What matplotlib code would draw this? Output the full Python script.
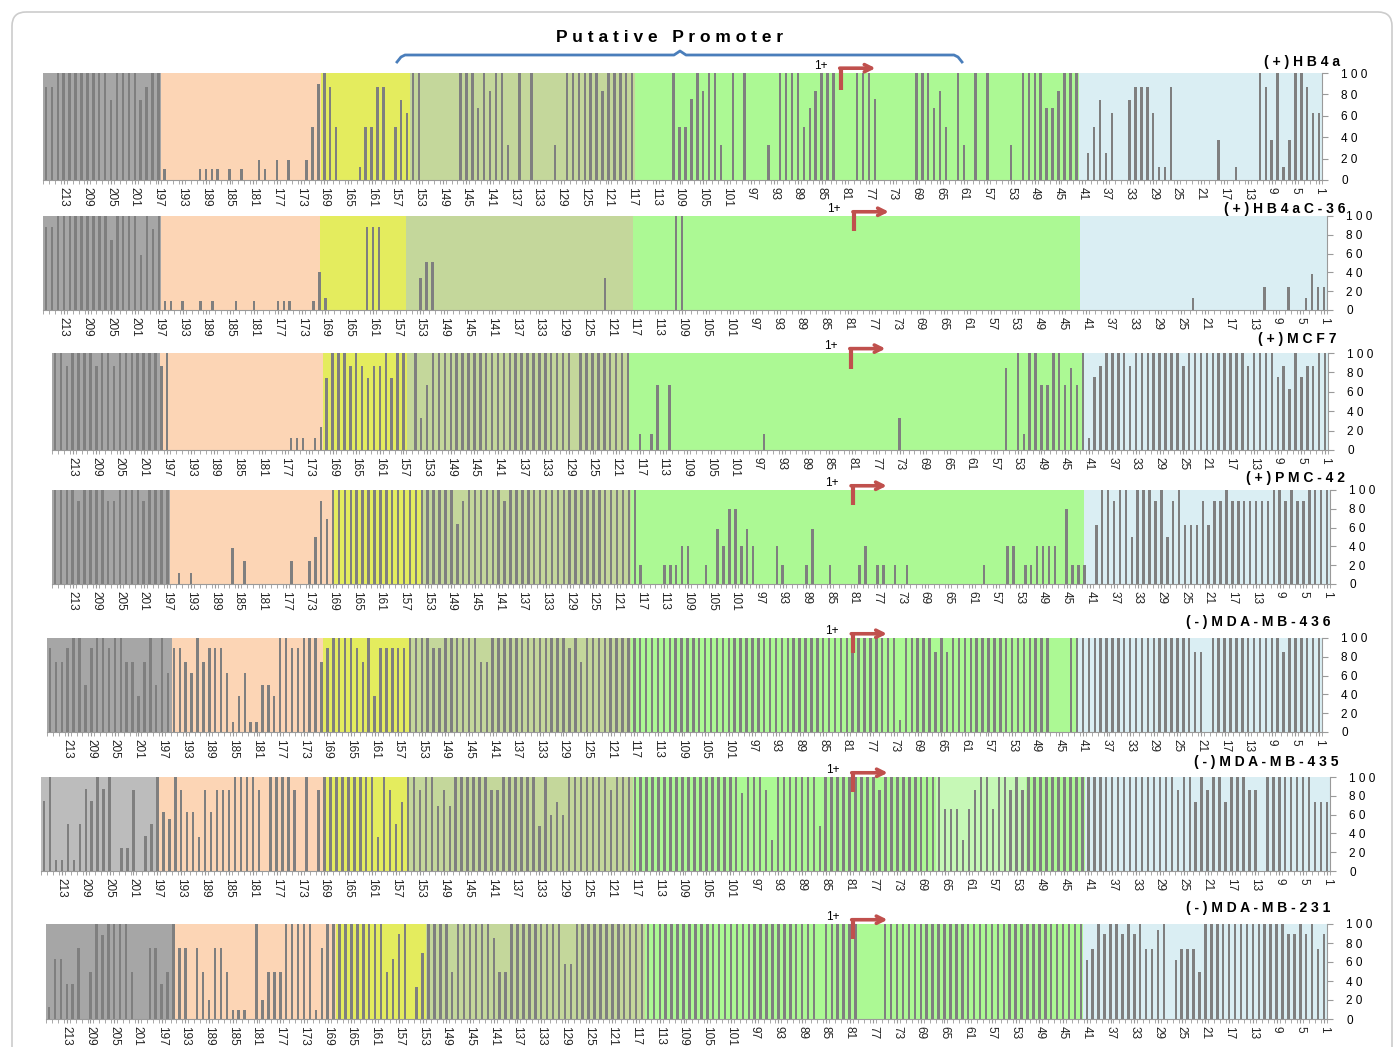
import numpy as np
import matplotlib.pyplot as plt
import matplotlib.transforms as mtransforms
from matplotlib.patches import FancyBboxPatch

plt.rcParams['font.family'] = ['Liberation Sans', 'DejaVu Sans']

W, H = 1398, 1047

# positions, left (216) to right (1)
positions = np.arange(216, 0, -1)
tick_pos = np.arange(213, 0, -4)

panel_names = ['( + ) H B 4 a', '( + ) H B 4 a C - 3 6', '( + ) M C F 7', '( + ) P M C - 4 2',
               '( - ) M D A - M B - 4 3 6', '( - ) M D A - M B - 4 3 5', '( - ) M D A - M B - 2 3 1']

# % values, 8 positions per row (216-209, 208-201, ... , 8-1)
hb4a = [
    87, 87, 100, 100, 100, 100, 100, 100,
    100, 100, 100, 75, 100, 100, 100, 100,
    75, 87, 100, 100, 10, 0, 0, 0,
    0, 0, 10, 10, 10, 10, 0, 10,
    0, 10, 0, 0, 19, 10, 0, 19,
    0, 19, 0, 0, 19, 50, 90, 100,
    87, 50, 0, 0, 0, 12, 50, 50,
    87, 87, 0, 50, 75, 63, 100, 100,
    0, 0, 0, 0, 0, 0, 100, 100,
    100, 67, 100, 83, 100, 100, 33, 0,
    100, 0, 100, 0, 0, 0, 33, 0,
    100, 100, 100, 100, 100, 100, 83, 100,
    100, 100, 100, 100, 0, 0, 0, 0,
    0, 0, 100, 50, 50, 76, 100, 83,
    100, 100, 33, 0, 100, 0, 100, 0,
    0, 0, 33, 0, 100, 100, 100, 100,
    50, 67, 83, 100, 100, 100, 0, 0,
    0, 100, 100, 100, 76, 0, 0, 0,
    0, 0, 0, 100, 100, 100, 67, 83,
    50, 0, 100, 33, 0, 100, 0, 100,
    0, 0, 0, 33, 0, 100, 100, 100,
    100, 67, 67, 83, 100, 100, 100, 0,
    25, 50, 75, 25, 63, 0, 0, 75,
    87, 87, 87, 63, 12, 12, 87, 0,
    0, 0, 0, 0, 0, 0, 37, 0,
    0, 12, 0, 0, 0, 100, 87, 37,
    100, 12, 37, 100, 100, 87, 63, 63,
]

hb4ac36 = [
    88, 88, 100, 100, 100, 100, 100, 100,
    100, 100, 100, 75, 100, 100, 100, 100,
    58, 100, 86, 100, 10, 10, 0, 10,
    0, 0, 10, 0, 10, 0, 0, 0,
    10, 0, 0, 10, 0, 0, 0, 10,
    10, 10, 0, 0, 0, 10, 40, 13,
    0, 0, 0, 0, 0, 0, 88, 88,
    88, 0, 0, 0, 0, 0, 0, 34,
    51, 51, 0, 0, 0, 0, 0, 0,
    0, 0, 0, 0, 0, 0, 0, 0,
    0, 0, 0, 0, 0, 0, 0, 0,
    0, 0, 0, 0, 0, 0, 34, 0,
    0, 0, 0, 0, 0, 0, 0, 0,
    0, 0, 100, 100, 0, 0, 0, 0,
    0, 0, 0, 0, 0, 0, 0, 0,
    0, 0, 0, 0, 0, 0, 0, 0,
    0, 0, 0, 0, 0, 0, 0, 0,
    0, 0, 0, 0, 0, 0, 0, 0,
    0, 0, 0, 0, 0, 0, 0, 0,
    0, 0, 0, 0, 0, 0, 0, 0,
    0, 0, 0, 0, 0, 0, 0, 0,
    0, 0, 0, 0, 0, 0, 0, 0,
    0, 0, 0, 0, 0, 0, 0, 0,
    0, 0, 0, 0, 0, 0, 0, 0,
    0, 13, 0, 0, 0, 0, 0, 0,
    0, 0, 0, 0, 0, 25, 0, 0,
    0, 25, 0, 0, 13, 38, 25, 25,
]

mcf7 = [
    100, 100, 87, 100, 100, 100, 100, 87,
    100, 100, 87, 100, 100, 100, 100, 100,
    100, 100, 87, 100, 0, 0, 0, 0,
    0, 0, 0, 0, 0, 0, 0, 0,
    0, 0, 0, 0, 0, 0, 0, 0,
    12, 12, 12, 0, 12, 24, 74, 100,
    100, 100, 87, 100, 87, 74, 87, 87,
    100, 74, 100, 100, 0, 100, 33, 67,
    100, 100, 100, 100, 100, 100, 100, 100,
    100, 100, 100, 100, 100, 100, 100, 100,
    100, 100, 100, 100, 100, 100, 100, 100,
    0, 100, 100, 100, 100, 100, 100, 100,
    100, 100, 0, 16, 0, 16, 67, 0,
    67, 0, 0, 0, 0, 0, 0, 0,
    0, 0, 0, 0, 0, 0, 0, 0,
    16, 0, 0, 0, 0, 0, 0, 0,
    0, 0, 0, 0, 0, 0, 0, 0,
    0, 0, 0, 0, 0, 0, 0, 33,
    0, 0, 0, 0, 0, 0, 0, 0,
    0, 0, 0, 0, 0, 0, 0, 0,
    0, 85, 0, 100, 16, 100, 100, 67,
    67, 100, 100, 67, 85, 67, 100, 12,
    75, 87, 100, 100, 100, 100, 87, 100,
    100, 100, 100, 100, 100, 100, 100, 87,
    100, 100, 100, 100, 100, 100, 100, 100,
    100, 100, 87, 100, 100, 100, 100, 75,
    87, 63, 100, 75, 87, 87, 100, 100,
]

pmc42 = [
    100, 100, 100, 100, 88, 100, 100, 100,
    100, 88, 88, 100, 100, 100, 100, 88,
    100, 100, 100, 100, 0, 12, 0, 12,
    0, 0, 0, 0, 0, 0, 38, 0,
    25, 0, 0, 0, 0, 0, 0, 0,
    25, 0, 0, 25, 50, 88, 69, 100,
    100, 100, 100, 100, 100, 100, 100, 100,
    100, 100, 100, 100, 100, 100, 100, 100,
    100, 100, 100, 100, 64, 88, 100, 100,
    100, 100, 100, 100, 88, 100, 100, 100,
    100, 100, 100, 100, 100, 100, 100, 100,
    100, 100, 100, 100, 100, 100, 100, 100,
    100, 100, 100, 20, 0, 0, 0, 20,
    20, 20, 40, 40, 0, 0, 20, 0,
    59, 40, 80, 80, 40, 59, 40, 0,
    0, 0, 40, 20, 0, 0, 0, 20,
    59, 0, 0, 20, 0, 0, 0, 0,
    20, 40, 0, 20, 20, 0, 20, 0,
    20, 0, 0, 0, 0, 0, 0, 0,
    0, 0, 0, 0, 0, 20, 0, 0,
    0, 40, 40, 0, 20, 20, 40, 40,
    40, 40, 0, 80, 20, 20, 20, 0,
    63, 100, 100, 88, 100, 100, 50, 100,
    100, 100, 88, 100, 50, 88, 100, 63,
    63, 63, 88, 63, 88, 88, 100, 88,
    88, 88, 88, 88, 88, 88, 100, 100,
    88, 100, 88, 88, 100, 100, 100, 100,
]

mdamb436 = [
    89, 75, 75, 89, 100, 100, 50, 89,
    100, 100, 89, 100, 100, 75, 75, 38,
    75, 100, 50, 100, 63, 89, 89, 75,
    63, 100, 75, 89, 89, 89, 63, 11,
    38, 63, 11, 11, 50, 50, 38, 100,
    100, 89, 89, 100, 100, 100, 75, 89,
    100, 100, 100, 100, 89, 75, 100, 38,
    89, 89, 89, 89, 89, 100, 100, 100,
    100, 89, 89, 100, 100, 100, 100, 100,
    100, 75, 75, 100, 100, 100, 100, 100,
    100, 100, 100, 100, 100, 100, 100, 100,
    89, 100, 75, 100, 100, 100, 100, 100,
    100, 100, 100, 100, 100, 100, 100, 100,
    100, 100, 100, 100, 100, 100, 100, 100,
    100, 100, 100, 100, 100, 100, 100, 100,
    100, 100, 100, 100, 100, 100, 100, 100,
    100, 100, 100, 100, 100, 100, 100, 100,
    100, 100, 100, 100, 100, 100, 100, 100,
    13, 100, 100, 100, 100, 100, 85, 100,
    85, 100, 100, 100, 100, 100, 100, 100,
    100, 100, 100, 100, 100, 100, 100, 100,
    100, 100, 0, 0, 0, 100, 100, 100,
    100, 100, 100, 100, 100, 100, 100, 100,
    100, 100, 100, 100, 100, 100, 100, 100,
    100, 100, 85, 85, 0, 100, 100, 100,
    100, 100, 100, 100, 100, 100, 100, 100,
    100, 85, 100, 100, 100, 100, 100, 100,
]

mdamb435 = [
    75, 100, 12, 12, 50, 12, 50, 87,
    75, 100, 87, 100, 0, 25, 25, 86,
    0, 37, 50, 100, 63, 55, 100, 86,
    63, 63, 36, 86, 63, 86, 86, 86,
    100, 100, 100, 100, 86, 0, 100, 100,
    100, 100, 86, 0, 100, 0, 86, 100,
    100, 100, 100, 100, 100, 100, 100, 100,
    36, 100, 86, 50, 73, 100, 100, 86,
    100, 100, 69, 86, 69, 100, 100, 100,
    100, 100, 100, 86, 86, 100, 100, 100,
    100, 100, 100, 48, 100, 60, 73, 60,
    100, 100, 100, 100, 100, 100, 100, 86,
    100, 100, 100, 100, 100, 100, 100, 100,
    100, 100, 100, 100, 100, 100, 100, 100,
    100, 100, 100, 100, 100, 83, 100, 100,
    100, 86, 33, 100, 100, 100, 100, 100,
    100, 100, 48, 100, 100, 100, 100, 100,
    100, 100, 100, 100, 86, 100, 100, 100,
    100, 100, 100, 100, 100, 100, 100, 66,
    66, 66, 33, 66, 86, 100, 100, 66,
    100, 100, 86, 100, 86, 100, 100, 100,
    100, 100, 100, 100, 100, 100, 100, 100,
    100, 100, 100, 100, 100, 100, 100, 100,
    100, 100, 100, 100, 100, 100, 86, 100,
    100, 73, 100, 86, 100, 100, 73, 100,
    100, 100, 86, 86, 0, 100, 100, 100,
    100, 100, 100, 100, 100, 73, 73, 73,
]

mdamb231 = [
    13, 63, 63, 37, 37, 75, 0, 50,
    100, 88, 100, 100, 100, 100, 50, 0,
    0, 75, 75, 37, 50, 100, 75, 75,
    0, 75, 50, 20, 75, 75, 50, 10,
    10, 10, 0, 100, 20, 50, 50, 50,
    100, 100, 100, 100, 100, 10, 75, 100,
    100, 100, 100, 100, 100, 100, 100, 100,
    100, 50, 63, 90, 100, 0, 34, 70,
    100, 100, 100, 100, 50, 100, 100, 100,
    100, 100, 100, 85, 50, 50, 100, 100,
    100, 100, 100, 100, 100, 100, 100, 58,
    58, 100, 100, 100, 100, 100, 100, 100,
    100, 100, 100, 100, 100, 100, 100, 100,
    100, 100, 100, 100, 100, 100, 100, 100,
    100, 100, 100, 100, 100, 100, 100, 100,
    100, 100, 100, 100, 100, 100, 100, 100,
    100, 100, 0, 100, 100, 100, 100, 100,
    100, 0, 0, 0, 0, 100, 100, 100,
    100, 100, 100, 100, 100, 100, 100, 100,
    100, 100, 100, 100, 100, 100, 100, 100,
    100, 100, 100, 100, 100, 100, 100, 100,
    100, 100, 100, 100, 100, 100, 100, 62,
    74, 100, 89, 100, 100, 89, 100, 90,
    100, 74, 74, 94, 100, 0, 62, 74,
    74, 74, 50, 100, 100, 100, 100, 100,
    100, 100, 100, 100, 100, 100, 100, 100,
    100, 89, 89, 100, 89, 100, 74, 89,
]

panels = [hb4a, hb4ac36, mcf7, pmc42, mdamb436, mdamb435, mdamb231]
for v in panels:
    assert len(v) == 216, len(v)

# region edges (position units) : gray | peach | yellow | olive | green | blue
region_edges = [
    [196.5, 169.5, 154.5, 116.5, 41.5],
    [196.6, 169.9, 155.5, 117.3, 42.1],
    [198.3, 170.7, 156.4, 119.1, 41.9],
    [196.5, 169.1, 154.2, 118.6, 42.0],
    [195.3, 169.7, 155.1, 117.6, 42.0],
    [196.8, 169.3, 155.0, 117.3, 41.5],
    [195.1, 167.6, 152.4, 115.5, 41.6],
]
region_colors = ['#a6a6a6', '#fcd5b5', '#e4ec5e', '#c4d79b', '#acf994', '#daeef3']

# axes boxes in pixels: left, top, right, bottom
boxes = [
    (43, 73, 1322, 180),
    (43, 216, 1327, 310),
    (52, 353, 1328, 450),
    (52, 490, 1330, 584),
    (47, 638, 1322, 732),
    (41, 777, 1330, 871),
    (46, 924, 1327, 1019),
]
label_xy = [(1340, 62), (1345, 209), (1336, 339), (1345, 478), (1330, 622), (1338, 762), (1330, 908)]
arrow_x = [81.7, 80.0, 81.2, 81.2, 80.0, 80.4, 80.4]

bar_col = '#7f7f7f'
red = '#c0504d'

fig = plt.figure(figsize=(W / 100, H / 100), dpi=100)

# frame / title layer in pixel coords
ov = fig.add_axes([0, 0, 1, 1])
ov.set_xlim(0, W)
ov.set_ylim(H, 0)
ov.axis('off')
ov.add_patch(FancyBboxPatch((12, 12), 1380, 1100, boxstyle='round,pad=0,rounding_size=14',
                            fill=False, ec='#cccccc', lw=1.2))
ov.text(670, 37, 'P u t a t i v e   P r o m o t e r', ha='center', va='center',
        fontsize=12.5, fontweight='bold')
bx = [397, 401, 405, 674, 680, 686, 954, 958, 962]
by = [62, 57, 55, 55, 51, 55, 55, 57, 62]
ov.plot(bx, by, color='#4a7ebb', lw=2)

for i, vals in enumerate(panels):
    l, t, r, b = boxes[i]
    ax = fig.add_axes([l / W, 1 - b / H, (r - l) / W, (b - t) / H])
    ax.set_xlim(216.5, 0.5)
    ax.set_ylim(0, 100)
    edges = [216.5] + region_edges[i] + [0.5]
    cols = list(region_colors)
    if i == 5:
        cols[0] = '#bcbcbc'
    for k in range(6):
        ax.axvspan(edges[k + 1], edges[k], color=cols[k], lw=0, zorder=0)
    if i == 5:
        ax.axvspan(51.5, 66.5, color='#c6f8b6', lw=0, zorder=0)
    ax.bar(positions, vals, width=0.42, color=bar_col, lw=0, zorder=2)

    ax.set_xticks(tick_pos)
    ax.set_xticklabels([str(p) for p in tick_pos], rotation=-90, fontsize=8.5, color='#222222')
    ax.set_xticks(np.arange(0.5, 217, 1), minor=True)
    ax.tick_params(axis='x', which='both', length=3, color='#9a9a9a', pad=2)

    ax.yaxis.tick_right()
    ax.set_yticks([0, 20, 40, 60, 80, 100])
    ax.set_yticklabels(['0', '2 0', '4 0', '6 0', '8 0', '1 0 0'], fontsize=8.5)
    ax.tick_params(axis='y', length=4, color='#9a9a9a', pad=10)
    for s in ['top', 'left']:
        ax.spines[s].set_visible(False)
    for s in ['right', 'bottom']:
        ax.spines[s].set_color('#9a9a9a')
        ax.spines[s].set_linewidth(0.8)

    # transcription start arrow
    tr = mtransforms.blended_transform_factory(ax.transData, ax.transAxes)
    x0 = arrow_x[i]
    ax.plot([x0, x0], [0.84, 1.045], transform=tr, color=red, lw=3, clip_on=False,
            solid_capstyle='butt', zorder=5)
    ax.annotate('', xy=(x0 - 5.8, 1.045), xytext=(x0 + 0.25, 1.045), xycoords=tr, textcoords=tr,
                arrowprops=dict(arrowstyle='->', color=red, lw=2.6, mutation_scale=13,
                                shrinkA=0, shrinkB=0),
                annotation_clip=False, zorder=5)
    ax.text(x0 + 3.5, 1.07, '1+', transform=tr, ha='center', va='center', fontsize=8.5)

    lx, ly = label_xy[i]
    ov.text(lx, ly, panel_names[i], ha='right', va='center', fontsize=10, fontweight='bold')

fig.savefig('out.png', dpi=100)
